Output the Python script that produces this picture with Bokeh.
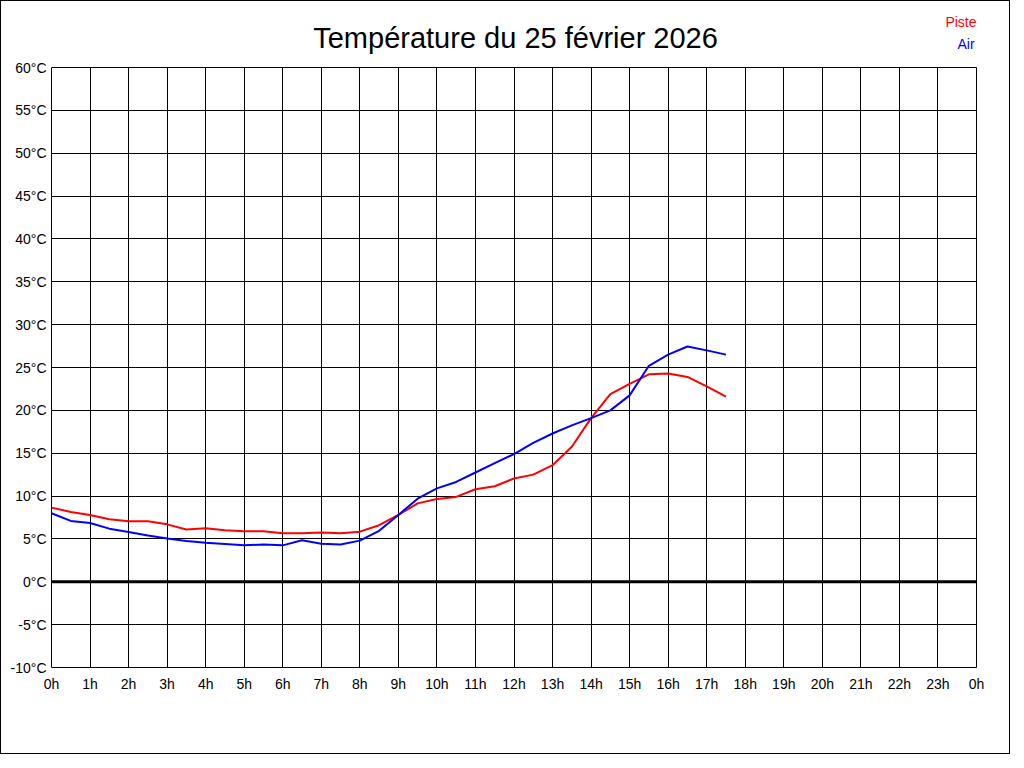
from bokeh.plotting import figure
from bokeh.layouts import column
from bokeh.models import Range1d, FixedTicker, Span, Label
from bokeh.embed import file_html
from bokeh.resources import INLINE

# ---- data ----
hours = [0, 0.5, 1, 1.5, 2, 2.5, 3, 3.5, 4, 4.5, 5, 5.5, 6, 6.5, 7, 7.5, 8, 8.5,
         9, 9.5, 10, 10.5, 11, 11.5, 12, 12.5, 13, 13.5, 14, 14.5, 15, 15.5, 16, 16.5, 17, 17.5]
piste = [8.65, 8.15, 7.8, 7.3, 7.05, 7.05, 6.7, 6.1, 6.25, 6.0, 5.9, 5.9, 5.65, 5.65, 5.75, 5.65,
         5.85, 6.6, 7.8, 9.15, 9.65, 9.9, 10.8, 11.15, 12.05, 12.5, 13.6, 15.75, 19.1, 21.9,
         23.1, 24.2, 24.3, 23.9, 22.8, 21.6]
air = [8.0, 7.1, 6.85, 6.2, 5.8, 5.4, 5.05, 4.75, 4.55, 4.4, 4.25, 4.35, 4.25, 4.85, 4.45, 4.35,
       4.8, 5.95, 7.8, 9.7, 10.9, 11.65, 12.75, 13.85, 14.9, 16.2, 17.3, 18.25, 19.1, 20.0,
       21.75, 25.2, 26.5, 27.45, 27.0, 26.5]
x_ticks = list(range(0, 25))
x_tick_labels = [f"{h % 24}h" for h in x_ticks]
y_ticks = list(range(-10, 61, 5))
y_tick_labels = [f"{t}°C" for t in y_ticks]
title_text = "Température du 25 février 2026"
series_names = ["Piste", "Air"]
series_colors = ["#ff0000", "#0000ff"]

FONT = "Liberation Sans"
W = 1008
HDR_H = 56

# ---- header (title + colour key); its frame is aligned with the chart's frame ----
hdr = figure(width=W, height=HDR_H, output_backend="svg", toolbar_location=None,
             x_range=Range1d(0, 24), y_range=Range1d(HDR_H, 0),
             min_border_left=50, min_border_right=33, min_border_top=0, min_border_bottom=0,
             background_fill_color="white", border_fill_color="white")
hdr.axis.visible = False
hdr.grid.visible = False
hdr.outline_line_color = None
hdr.add_layout(Label(x=12.04, y=36, text=title_text, text_align="center",
                     text_baseline="alphabetic", text_font=FONT, text_font_size="29px",
                     text_color="black"))
hdr.add_layout(Label(x=24, y=20, text=series_names[0], text_align="right",
                     text_baseline="alphabetic", text_font=FONT, text_font_size="14px",
                     text_color=series_colors[0]))
hdr.add_layout(Label(x=23.95, y=42, text=series_names[1], text_align="right",
                     text_baseline="alphabetic", text_font=FONT, text_font_size="14px",
                     text_color=series_colors[1]))

# ---- main chart ----
p = figure(width=W, height=696, output_backend="svg", toolbar_location=None,
           x_range=Range1d(0, 24), y_range=Range1d(-10, 60),
           min_border_left=50, min_border_right=33, min_border_top=10, min_border_bottom=86,
           background_fill_color="white", border_fill_color="white")

p.outline_line_color = "black"
p.outline_line_width = 1
p.outline_line_alpha = 1

for ax in (p.xaxis[0], p.yaxis[0]):
    ax.axis_line_color = None
    ax.major_tick_line_color = None
    ax.minor_tick_line_color = None
    ax.major_tick_out = 0
    ax.major_tick_in = 0
    ax.minor_tick_out = 0
    ax.major_label_text_font = FONT
    ax.major_label_text_font_size = "14px"
    ax.major_label_text_color = "black"

p.xaxis.ticker = FixedTicker(ticks=x_ticks)
p.xaxis.major_label_overrides = {t: lab for t, lab in zip(x_ticks, x_tick_labels)}
p.xaxis.major_label_standoff = 8
p.yaxis.ticker = FixedTicker(ticks=y_ticks)
p.yaxis.major_label_overrides = {t: lab for t, lab in zip(y_ticks, y_tick_labels)}
p.yaxis.major_label_standoff = 5

p.xgrid.ticker = FixedTicker(ticks=x_ticks)
p.ygrid.ticker = FixedTicker(ticks=y_ticks)
for g in (p.xgrid[0], p.ygrid[0]):
    g.grid_line_color = "black"
    g.grid_line_alpha = 1
    g.grid_line_width = 1

p.add_layout(Span(location=0, dimension="width", line_color="black", line_width=3, level="underlay"))

p.line(hours, piste, line_color=series_colors[0], line_width=2)
p.line(hours, air, line_color=series_colors[1], line_width=2)

layout = column(hdr, p, spacing=0,
                styles={"border": "1px solid black", "box-sizing": "border-box"})

open("out.html", "w").write(file_html(layout, INLINE))
